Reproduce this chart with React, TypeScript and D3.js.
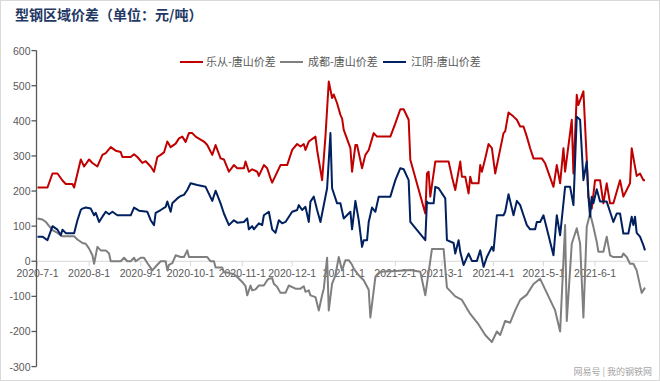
import React from "react";
import * as d3 from "d3";

const seriesNames = ["乐从-唐山价差", "成都-唐山价差", "江阴-唐山价差"];
const seriesColors = ["#C00000", "#7F7F7F", "#002060"];

const leCong: [string, number][] = [
  ["2020-07-01", 210], ["2020-07-07", 210], ["2020-07-10", 250], ["2020-07-13", 250], ["2020-07-16", 230],
  ["2020-07-18", 220], ["2020-07-22", 220], ["2020-07-23", 210], ["2020-07-27", 290], ["2020-07-29", 270],
  ["2020-08-01", 290], ["2020-08-03", 280], ["2020-08-06", 270], ["2020-08-09", 303], ["2020-08-11", 308],
  ["2020-08-14", 325], ["2020-08-17", 315], ["2020-08-20", 311], ["2020-08-21", 297], ["2020-08-26", 297],
  ["2020-08-28", 305], ["2020-08-30", 297], ["2020-09-02", 280], ["2020-09-04", 285], ["2020-09-07", 270],
  ["2020-09-09", 255], ["2020-09-11", 297], ["2020-09-13", 303], ["2020-09-15", 310], ["2020-09-17", 341],
  ["2020-09-19", 325], ["2020-09-22", 335], ["2020-09-24", 350], ["2020-09-26", 355], ["2020-09-28", 340],
  ["2020-09-30", 365], ["2020-10-02", 365], ["2020-10-04", 355], ["2020-10-09", 341], ["2020-10-11", 331],
  ["2020-10-14", 303], ["2020-10-16", 331], ["2020-10-19", 293], ["2020-10-21", 290], ["2020-10-24", 255],
  ["2020-10-27", 274], ["2020-10-29", 265], ["2020-11-02", 265], ["2020-11-03", 284], ["2020-11-05", 255],
  ["2020-11-07", 262], ["2020-11-10", 255], ["2020-11-11", 243], ["2020-11-14", 274], ["2020-11-16", 265],
  ["2020-11-18", 236], ["2020-11-19", 224], ["2020-11-24", 274], ["2020-11-28", 274], ["2020-12-01", 317],
  ["2020-12-04", 334], ["2020-12-06", 327], ["2020-12-08", 334], ["2020-12-09", 317], ["2020-12-11", 341],
  ["2020-12-15", 355], ["2020-12-16", 317], ["2020-12-19", 231], ["2020-12-21", 355], ["2020-12-23", 512],
  ["2020-12-25", 465], ["2020-12-26", 475], ["2020-12-28", 450], ["2020-12-30", 417], ["2020-12-31", 407],
  ["2021-01-01", 374], ["2021-01-05", 322], ["2021-01-06", 255], ["2021-01-08", 331], ["2021-01-09", 331],
  ["2021-01-12", 265], ["2021-01-14", 303], ["2021-01-16", 317], ["2021-01-19", 365], ["2021-01-21", 355],
  ["2021-01-29", 355], ["2021-02-01", 393], ["2021-02-04", 433], ["2021-02-06", 433], ["2021-02-09", 403],
  ["2021-02-10", 289], ["2021-02-19", 136], ["2021-02-20", 250], ["2021-02-21", 255], ["2021-02-22", 184],
  ["2021-02-25", 284], ["2021-03-05", 284], ["2021-03-07", 241], ["2021-03-09", 203], ["2021-03-12", 284],
  ["2021-03-13", 241], ["2021-03-15", 241], ["2021-03-17", 193], ["2021-03-18", 241], ["2021-03-19", 222],
  ["2021-03-23", 222], ["2021-03-24", 274], ["2021-03-25", 255], ["2021-03-27", 293], ["2021-03-29", 334],
  ["2021-03-31", 322], ["2021-04-02", 250], ["2021-04-07", 365], ["2021-04-08", 370], ["2021-04-10", 424],
  ["2021-04-13", 412], ["2021-04-15", 403], ["2021-04-17", 384], ["2021-04-19", 384], ["2021-04-21", 355],
  ["2021-04-23", 322], ["2021-04-25", 293], ["2021-04-30", 293], ["2021-05-02", 279], ["2021-05-07", 212],
  ["2021-05-09", 274], ["2021-05-11", 222], ["2021-05-13", 322], ["2021-05-14", 255], ["2021-05-18", 403],
  ["2021-05-19", 250], ["2021-05-21", 474], ["2021-05-22", 445], ["2021-05-25", 484], ["2021-05-27", 289],
  ["2021-05-28", 184], ["2021-05-30", 150], ["2021-06-01", 231], ["2021-06-04", 231], ["2021-06-06", 165],
  ["2021-06-08", 222], ["2021-06-10", 165], ["2021-06-12", 165], ["2021-06-16", 231], ["2021-06-18", 184],
  ["2021-06-22", 222], ["2021-06-23", 322], ["2021-06-26", 243], ["2021-06-28", 250], ["2021-06-30", 231],
  ["2021-07-01", 231],
];

const chengDu: [string, number][] = [
  ["2020-07-01", 122], ["2020-07-04", 119], ["2020-07-06", 112], ["2020-07-08", 100], ["2020-07-10", 89],
  ["2020-07-13", 81], ["2020-07-16", 71], ["2020-07-23", 71], ["2020-07-25", 62], ["2020-07-28", 52],
  ["2020-07-30", 50], ["2020-08-01", 36], ["2020-08-03", 17], ["2020-08-04", -7], ["2020-08-06", 41],
  ["2020-08-08", 31], ["2020-08-11", 31], ["2020-08-13", 22], ["2020-08-14", 0], ["2020-08-20", 0],
  ["2020-08-22", 10], ["2020-08-24", 0], ["2020-08-26", 0], ["2020-08-28", 10], ["2020-08-29", 0],
  ["2020-09-01", 10], ["2020-09-03", 10], ["2020-09-05", -5], ["2020-09-08", -26], ["2020-09-11", -10],
  ["2020-09-13", 0], ["2020-09-16", 0], ["2020-09-17", -26], ["2020-09-18", -10], ["2020-09-20", -5],
  ["2020-09-22", 17], ["2020-09-25", 12], ["2020-09-27", 12], ["2020-09-29", 31], ["2020-09-30", 12],
  ["2020-10-11", 12], ["2020-10-13", 0], ["2020-10-15", 0], ["2020-10-16", -18], ["2020-10-20", -18],
  ["2020-10-21", -31], ["2020-10-24", -33], ["2020-10-27", -37], ["2020-10-29", -45], ["2020-11-01", -59],
  ["2020-11-03", -71], ["2020-11-04", -97], ["2020-11-06", -69], ["2020-11-07", -83], ["2020-11-09", -80],
  ["2020-11-11", -69], ["2020-11-14", -69], ["2020-11-16", -54], ["2020-11-17", -50], ["2020-11-19", -48],
  ["2020-11-20", -64], ["2020-11-22", -73], ["2020-11-24", -90], ["2020-11-27", -90], ["2020-11-29", -69],
  ["2020-12-03", -78], ["2020-12-06", -78], ["2020-12-08", -71], ["2020-12-09", -87], ["2020-12-11", -83],
  ["2020-12-12", -97], ["2020-12-15", -102], ["2020-12-17", -140], ["2020-12-19", -97], ["2020-12-20", -78],
  ["2020-12-22", 10], ["2020-12-23", -140], ["2020-12-25", -64], ["2020-12-27", -40], ["2020-12-29", 12],
  ["2020-12-31", -26], ["2021-01-02", 3], ["2021-01-04", 3], ["2021-01-06", -10], ["2021-01-07", -21],
  ["2021-01-10", -40], ["2021-01-13", -54], ["2021-01-16", -81], ["2021-01-17", -160], ["2021-01-20", -45],
  ["2021-01-23", -30], ["2021-02-01", -28], ["2021-02-10", -25], ["2021-02-16", -30], ["2021-02-19", -97],
  ["2021-02-23", 35], ["2021-03-02", 35], ["2021-03-04", -75], ["2021-03-09", -100], ["2021-03-13", -110],
  ["2021-03-18", -150], ["2021-03-23", -180], ["2021-03-27", -210], ["2021-03-31", -230], ["2021-04-03", -200],
  ["2021-04-05", -210], ["2021-04-08", -170], ["2021-04-11", -175], ["2021-04-14", -140], ["2021-04-17", -110],
  ["2021-04-21", -95], ["2021-04-25", -65], ["2021-04-29", -50], ["2021-05-02", -80], ["2021-05-05", -110],
  ["2021-05-08", -140], ["2021-05-11", -200], ["2021-05-14", 103], ["2021-05-15", -170], ["2021-05-18", 50],
  ["2021-05-21", 94], ["2021-05-23", 51], ["2021-05-25", -160], ["2021-05-27", 98], ["2021-05-29", 136],
  ["2021-05-31", 98], ["2021-06-02", 55], ["2021-06-03", 27], ["2021-06-06", 27], ["2021-06-08", 70],
  ["2021-06-10", 17], ["2021-06-12", 12], ["2021-06-17", 12], ["2021-06-18", 22], ["2021-06-20", 12],
  ["2021-06-22", -7], ["2021-06-24", -7], ["2021-06-26", -26], ["2021-06-29", -90], ["2021-07-01", -75],
];

const jiangYin: [string, number][] = [
  ["2020-07-01", 70], ["2020-07-04", 70], ["2020-07-07", 60], ["2020-07-10", 100], ["2020-07-13", 90],
  ["2020-07-15", 74], ["2020-07-16", 90], ["2020-07-18", 80], ["2020-07-23", 80], ["2020-07-25", 117],
  ["2020-07-27", 146], ["2020-07-28", 150], ["2020-07-30", 153], ["2020-08-02", 150], ["2020-08-04", 131],
  ["2020-08-05", 138], ["2020-08-07", 112], ["2020-08-09", 127], ["2020-08-11", 141], ["2020-08-13", 134],
  ["2020-08-15", 141], ["2020-08-18", 131], ["2020-08-26", 131], ["2020-08-28", 153], ["2020-08-31", 144],
  ["2020-09-05", 141], ["2020-09-07", 117], ["2020-09-09", 103], ["2020-09-10", 138], ["2020-09-13", 146],
  ["2020-09-16", 155], ["2020-09-17", 170], ["2020-09-19", 141], ["2020-09-20", 165], ["2020-09-23", 179],
  ["2020-09-25", 186], ["2020-09-27", 189], ["2020-09-29", 203], ["2020-10-01", 222], ["2020-10-05", 217],
  ["2020-10-10", 212], ["2020-10-14", 172], ["2020-10-16", 201], ["2020-10-19", 165], ["2020-10-21", 136],
  ["2020-10-24", 103], ["2020-10-27", 117], ["2020-10-29", 110], ["2020-11-02", 112], ["2020-11-04", 122],
  ["2020-11-05", 91], ["2020-11-07", 100], ["2020-11-08", 91], ["2020-11-11", 108], ["2020-11-13", 103],
  ["2020-11-14", 131], ["2020-11-17", 141], ["2020-11-19", 91], ["2020-11-21", 81], ["2020-11-23", 117],
  ["2020-11-25", 108], ["2020-11-27", 112], ["2020-12-01", 141], ["2020-12-04", 146], ["2020-12-05", 160],
  ["2020-12-07", 146], ["2020-12-09", 155], ["2020-12-11", 112], ["2020-12-12", 170], ["2020-12-14", 184],
  ["2020-12-16", 146], ["2020-12-18", 112], ["2020-12-22", 208], ["2020-12-24", 365], ["2020-12-25", 208],
  ["2020-12-28", 165], ["2020-12-30", 165], ["2021-01-01", 122], ["2021-01-05", 141], ["2021-01-06", 91],
  ["2021-01-08", 172], ["2021-01-10", 117], ["2021-01-12", 41], ["2021-01-13", 60], ["2021-01-15", 60],
  ["2021-01-16", 112], ["2021-01-18", 153], ["2021-01-20", 141], ["2021-01-22", 184], ["2021-01-29", 184],
  ["2021-02-01", 231], ["2021-02-04", 265], ["2021-02-06", 262], ["2021-02-09", 231], ["2021-02-10", 112],
  ["2021-02-19", 60], ["2021-02-20", 170], ["2021-02-21", 165], ["2021-02-24", 165], ["2021-02-25", 212],
  ["2021-02-27", 208], ["2021-03-03", 179], ["2021-03-04", 60], ["2021-03-08", 52], ["2021-03-09", 22],
  ["2021-03-11", 60], ["2021-03-12", 27], ["2021-03-14", -11], ["2021-03-17", 22], ["2021-03-19", 1],
  ["2021-03-22", 1], ["2021-03-24", 31], ["2021-03-26", -16], ["2021-03-28", 12], ["2021-03-31", 41],
  ["2021-04-01", 30], ["2021-04-03", 131], ["2021-04-07", 131], ["2021-04-08", 141], ["2021-04-10", 191],
  ["2021-04-13", 131], ["2021-04-15", 172], ["2021-04-17", 160], ["2021-04-19", 131], ["2021-04-21", 103],
  ["2021-04-23", 91], ["2021-04-26", 91], ["2021-04-27", 112], ["2021-04-29", 112], ["2021-05-01", 131],
  ["2021-05-03", 93], ["2021-05-07", 17], ["2021-05-09", 131], ["2021-05-11", 74], ["2021-05-14", 212],
  ["2021-05-17", 212], ["2021-05-19", 160], ["2021-05-21", 412], ["2021-05-23", 403], ["2021-05-25", 231],
  ["2021-05-27", 284], ["2021-05-28", 184], ["2021-05-29", 127], ["2021-05-30", 184], ["2021-05-31", 165],
  ["2021-06-02", 205], ["2021-06-04", 170], ["2021-06-08", 170], ["2021-06-10", 141], ["2021-06-12", 112],
  ["2021-06-14", 136], ["2021-06-16", 136], ["2021-06-18", 79], ["2021-06-21", 79], ["2021-06-23", 127],
  ["2021-06-24", 103], ["2021-06-25", 127], ["2021-06-26", 81], ["2021-06-28", 70], ["2021-06-30", 46],
  ["2021-07-01", 31],
];

const yTicks = [-300, -200, -100, 0, 100, 200, 300, 400, 500, 600];
const xTickDates = [
  "2020-07-01", "2020-08-01", "2020-09-01", "2020-10-01", "2020-11-01", "2020-12-01",
  "2021-01-01", "2021-02-01", "2021-03-01", "2021-04-01", "2021-05-01", "2021-06-01",
];

const W = 660;
const H = 381;
const parse = d3.timeParse("%Y-%m-%d");
const fmt = d3.timeFormat("%Y-%-m-%-d");

export default function App() {
  const x = d3
    .scaleTime()
    .domain([parse("2020-07-01")!, parse("2021-07-01")!])
    .range([37.5, 645]);
  const y = d3.scaleLinear().domain([-300, 600]).range([366.6, 50.6]);
  const line = d3
    .line<[string, number]>()
    .x((d) => x(parse(d[0])!))
    .y((d) => y(d[1]));
  const series = [leCong, chengDu, jiangYin];
  const axisX = 36.5;
  const tickFont = "'Liberation Sans', Arial, sans-serif";
  const cjkFont = "'Noto Sans CJK SC', sans-serif";

  const legendItems = [
    { lx: 180, tx: 206 },
    { lx: 280, tx: 308 },
    { lx: 383, tx: 411 },
  ];

  return (
    <svg
      width={W}
      height={H}
      style={{ position: "absolute", left: 0, top: 0, background: "#fff" }}
    >
      <rect x={0.5} y={0.5} width={W - 1} height={H - 1} fill="#fff" stroke="#d9d9d9" />
      <text x={15} y={20} fontFamily={cjkFont} fontWeight="bold" fontSize={14} fill="#1F3864">
        型钢区域价差（单位：元/吨）
      </text>

      {/* x axis line at zero */}
      <line x1={axisX} x2={648} y1={y(0)} y2={y(0)} stroke="#d9d9d9" strokeWidth={1} />
      {xTickDates.map((d) => {
        const xx = x(parse(d)!);
        return (
          <g key={d}>
            <line x1={xx} x2={xx} y1={y(0)} y2={y(0) + 5} stroke="#d9d9d9" />
            <text
              x={xx}
              y={y(0) + 16}
              textAnchor="middle"
              fontFamily={tickFont}
              fontSize={10.5}
              fill="#595959"
            >
              {fmt(parse(d)!)}
            </text>
          </g>
        );
      })}

      {/* lines */}
      {series.map((s, i) => (
        <path
          key={i}
          d={line(s) || ""}
          fill="none"
          stroke={seriesColors[i]}
          strokeWidth={2}
          strokeLinejoin="round"
        />
      ))}

      {/* y axis */}
      <line x1={axisX} x2={axisX} y1={y(600)} y2={y(-300)} stroke="#595959" strokeWidth={1.3} />
      {yTicks.map((t) => (
        <g key={t}>
          <line x1={axisX - 5} x2={axisX} y1={y(t)} y2={y(t)} stroke="#595959" strokeWidth={1.3} />
          <text
            x={axisX - 6}
            y={y(t) + 4}
            textAnchor="end"
            fontFamily={tickFont}
            fontSize={10.5}
            fill="#595959"
          >
            {t}
          </text>
        </g>
      ))}

      {/* legend */}
      {legendItems.map((it, i) => (
        <g key={i}>
          <line x1={it.lx} x2={it.lx + 23} y1={62} y2={62} stroke={seriesColors[i]} strokeWidth={2} />
          <text x={it.tx} y={66} fontFamily={cjkFont} fontSize={11} fill="#595959">
            {seriesNames[i]}
          </text>
        </g>
      ))}

      <text x={652} y={375} textAnchor="end" fontFamily={cjkFont} fontSize={9} fill="#a6a6a6">
        网易号 | 我的钢铁网
      </text>
    </svg>
  );
}
